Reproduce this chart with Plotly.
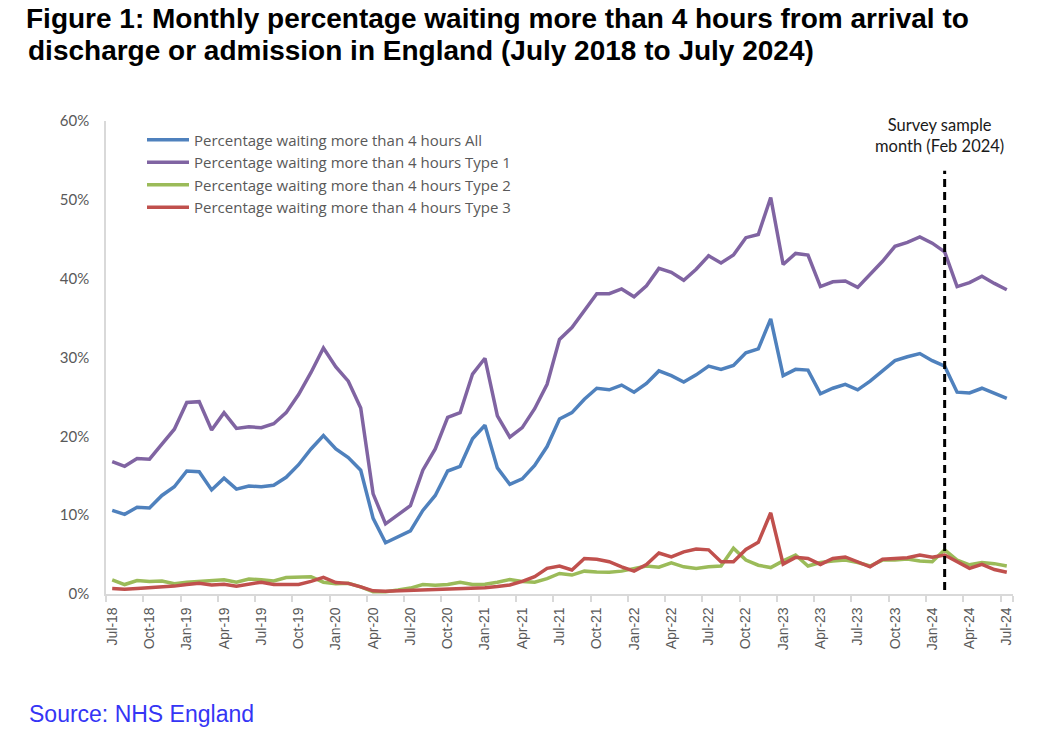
import pandas as pd
import plotly.graph_objects as go

# Categories: monthly, Jul 2018 to Jul 2024
months = [d.strftime("%b-%y") for d in pd.date_range("2018-07-01", "2024-07-01", freq="MS")]

# Percentage waiting more than 4 hours (%)
pct_all = [10.6, 10.1, 11.0, 10.9, 12.5, 13.6, 15.6, 15.5, 13.2, 14.7, 13.3, 13.7, 13.6, 13.8, 14.8, 16.4,
           18.4, 20.1, 18.4, 17.3, 15.7, 9.6, 6.5, 7.2, 8.0, 10.6, 12.5, 15.6, 16.2, 19.7, 21.4, 16.0,
           13.9, 14.6, 16.3, 18.7, 22.2, 23.0, 24.7, 26.1, 25.9, 26.5, 25.6, 26.7, 28.3, 27.7, 26.9, 27.8,
           28.9, 28.5, 29.0, 30.6, 31.1, 34.9, 27.7, 28.5, 28.4, 25.4, 26.1, 26.6, 25.9, 27.0, 28.3, 29.6,
           30.1, 30.5, 29.6, 28.9, 25.6, 25.5, 26.1, 25.4, 24.8]
pct_type1 = [16.8, 16.2, 17.2, 17.1, 19.0, 20.9, 24.3, 24.4, 20.8, 23.0, 21.0, 21.2, 21.1, 21.6, 23.0, 25.3,
             28.1, 31.2, 28.8, 27.0, 23.6, 12.7, 8.9, 10.0, 11.2, 15.7, 18.4, 22.4, 23.0, 27.9, 29.9, 22.6,
             19.9, 21.1, 23.5, 26.6, 32.3, 33.8, 36.0, 38.1, 38.1, 38.7, 37.7, 39.1, 41.3, 40.8, 39.8, 41.2,
             42.9, 42.0, 43.0, 45.2, 45.6, 50.3, 41.8, 43.2, 43.0, 39.0, 39.6, 39.7, 38.9, 40.6, 42.2, 44.1,
             44.6, 45.3, 44.5, 43.4, 39.0, 39.5, 40.3, 39.4, 38.6]
pct_type2 = [1.8, 1.2, 1.7, 1.6, 1.65, 1.3, 1.5, 1.6, 1.7, 1.8, 1.5, 1.9, 1.8, 1.65, 2.1, 2.2,
             2.2, 1.5, 1.3, 1.35, 0.9, 0.3, 0.3, 0.5, 0.75, 1.2, 1.1, 1.2, 1.5, 1.2, 1.25, 1.5,
             1.85, 1.6, 1.5, 1.95, 2.6, 2.4, 2.9, 2.8, 2.75, 2.9, 3.25, 3.55, 3.4, 3.95, 3.45, 3.25,
             3.45, 3.55, 5.8, 4.3, 3.65, 3.35, 4.2, 4.95, 3.55, 4.0, 4.2, 4.3, 4.0, 3.55, 4.3, 4.3,
             4.45, 4.2, 4.1, 5.6, 4.3, 3.7, 4.0, 3.85, 3.55]
pct_type3 = [0.7, 0.6, 0.7, 0.8, 0.85, 1.0, 1.2, 1.35, 1.15, 1.25, 1.0, 1.2, 1.5, 1.2, 1.25, 1.2,
             1.6, 2.1, 1.45, 1.35, 0.9, 0.4, 0.35, 0.4, 0.5, 0.6, 0.65, 0.7, 0.65, 0.75, 0.8, 0.95,
             1.15, 1.6, 2.2, 3.25, 3.55, 3.05, 4.5, 4.4, 4.1, 3.45, 2.9, 3.75, 5.2, 4.7, 5.35, 5.7,
             5.6, 4.1, 4.1, 5.65, 6.55, 10.3, 3.8, 4.65, 4.5, 3.75, 4.5, 4.7, 4.1, 3.45, 4.4, 4.5,
             4.6, 4.95, 4.65, 4.95, 4.1, 3.25, 3.75, 3.1, 2.75]

series_names = ["Percentage waiting more than 4 hours All",
                "Percentage waiting more than 4 hours Type 1",
                "Percentage waiting more than 4 hours Type 2",
                "Percentage waiting more than 4 hours Type 3"]
series_values = [pct_all, pct_type1, pct_type2, pct_type3]
colors = ["#4F81BD", "#8064A2", "#9BBB59", "#C0504D"]

survey_month = "Feb-24"
tick_labels = months[::3]

x_idx = list(range(len(months)))
tick_idx = x_idx[::3]

W, H = 1050, 730
ML, MR, MT, MB = 106, 37, 121, 136
PW, PH = W - ML - MR, H - MT - MB

fig = go.Figure()
for name, vals, col in zip(series_names, series_values, colors):
    fig.add_trace(go.Scatter(x=x_idx, y=vals, mode="lines", name=name,
                             line=dict(color=col, width=3.5)))

sx = months.index(survey_month)
fig.add_shape(type="line", xref="x", yref="y", x0=sx, x1=sx, y0=0.5, y1=53.7,
              line=dict(color="black", width=3, dash="8px,5px"))
fig.add_annotation(x=sx - 0.4, y=1.0, xref="x", yref="paper", yanchor="middle",
                   text="Survey sample<br>month (Feb 2024)", showarrow=False,
                   font=dict(family="Lato", size=16.5, color="#1a1a1a"), align="center", yshift=-14)

# second title line
fig.add_annotation(x=(26 - ML) / PW, y=(H - MB - 50) / PH, xref="paper", yref="paper",
                   xanchor="left", yanchor="middle",
                   text="discharge or admission in England (July 2018 to July 2024)", showarrow=False,
                   font=dict(family="Liberation Sans, Arial", size=28, color="black", weight="bold"))

fig.add_annotation(x=(27 - ML) / PW, y=(H - MB - 714) / PH, xref="paper", yref="paper",
                   xanchor="left", yanchor="middle", text="Source: NHS England", showarrow=False,
                   font=dict(family="Liberation Sans, Arial", size=23, color="#3535F5"))

fig.update_layout(
    width=W, height=H,
    paper_bgcolor="white", plot_bgcolor="white",
    margin=dict(l=ML, r=MR, t=MT, b=MB, autoexpand=False),
    title=dict(text="Figure 1: Monthly percentage waiting more than 4 hours from arrival to",
               x=26 / W, xanchor="left", xref="container", y=1 - 18 / H, yanchor="middle",
               yref="container",
               font=dict(family="Liberation Sans, Arial", size=28, color="black", weight="bold")),
    showlegend=True,
    legend=dict(x=(142 - ML) / PW, y=1 - 2.5 / PH, xanchor="left", yanchor="top",
                bgcolor="rgba(0,0,0,0)",
                font=dict(family="Open Sans", size=15, color="#595959"), itemwidth=42,
                tracegroupgap=0),
    xaxis=dict(range=[-0.5, 72.5], tickmode="array", tickvals=tick_idx, ticktext=tick_labels,
               tickangle=-90, ticks="", showgrid=False, zeroline=False,
               showline=True, linecolor="#D9D9D9", linewidth=1.5,
               tickfont=dict(family="Liberation Sans, Arial", size=14, color="#595959"),
               ticklabelstandoff=6,
               minor=dict(tickmode="array", tickvals=[i - 0.5 for i in tick_idx] + [72.5],
                          ticks="outside", ticklen=6, tickcolor="#D9D9D9", tickwidth=1.5,
                          showgrid=False)),
    yaxis=dict(range=[0, 60], dtick=10, ticksuffix="%", showgrid=False, zeroline=False,
               showline=True, linecolor="#D9D9D9", linewidth=1.5, ticks="",
               tickfont=dict(family="Lato", size=15, color="#595959"),
               ticklabelstandoff=12),
)

# let the figure fill the 1050x730 window exactly (no default page margin)
fig.write_html("out.html", config={"displayModeBar": False},
               post_script="document.body.style.margin='0px';")
